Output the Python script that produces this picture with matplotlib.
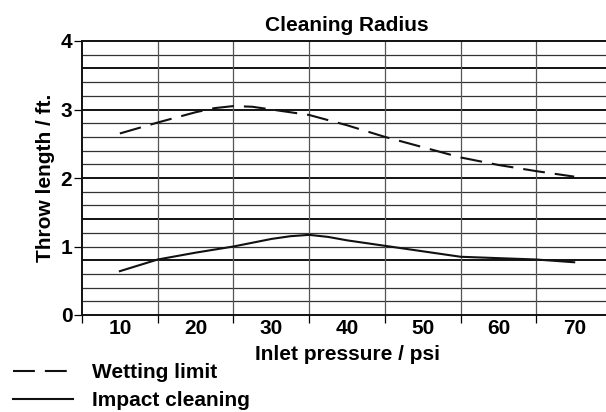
import matplotlib
matplotlib.use("Agg")
import matplotlib.pyplot as plt

# values
wetting_x = [10, 15, 20, 22.5, 25, 27.5, 30, 35, 40, 45, 50, 55, 60, 65, 70]
wetting_limit = [2.65, 2.81, 2.96, 3.02, 3.05, 3.04, 3.00, 2.92, 2.77, 2.60, 2.45, 2.30, 2.19, 2.10, 2.02]
impact_x = [10, 15, 20, 25, 30, 32.5, 35, 37.5, 40, 45, 50, 55, 60, 65, 70]
impact_cleaning = [0.64, 0.81, 0.91, 1.00, 1.11, 1.15, 1.17, 1.14, 1.09, 1.01, 0.93, 0.85, 0.83, 0.81, 0.77]
x_labels = [10, 20, 30, 40, 50, 60, 70]
y_ticks = [0, 1, 2, 3, 4]

plt.rcParams.update({"font.family": "Liberation Sans", "font.weight": "bold", "font.size": 15})

fig = plt.figure(figsize=(6.06, 4.12), dpi=100)
ax = fig.add_axes([82 / 606, 1 - 315 / 412, 1 - 82 / 606 + 0.01, (315 - 41) / 412])

ax.set_xlim(5, 75)
ax.set_ylim(0, 4)

# horizontal grid every 0.2, some rows heavier as in the scan
heavy = {0.8, 1.4, 2.0, 3.0, 3.6}
for i in range(1, 20):
    y = round(i * 0.2, 1)
    if y in heavy:
        ax.axhline(y, color="#111111", lw=1.4, zorder=1)
    else:
        ax.axhline(y, color="#333333", lw=0.9, zorder=1)
for x in range(15, 75, 10):
    ax.axvline(x, color="#555555", lw=0.9, zorder=1)

ax.plot(wetting_x, wetting_limit, color="#111111", lw=1.5,
        linestyle=(0, (10.5, 4.8)), label="Wetting limit", zorder=3)
ax.plot(impact_x, impact_cleaning, color="#111111", lw=1.5,
        label="Impact cleaning", zorder=3)

for s in ax.spines.values():
    s.set_color("#111111")
    s.set_linewidth(1.4)
ax.spines["right"].set_visible(False)

ax.set_yticks(y_ticks)
ax.set_yticklabels([str(v) for v in y_ticks])
ax.tick_params(axis="y", length=6, width=0.9, pad=1, labelsize=15)

ax.set_xticks(range(5, 75, 10))
ax.set_xticklabels([])
ax.set_xticks(x_labels, minor=True)
ax.set_xticklabels([str(v) for v in x_labels], minor=True)
ax.tick_params(axis="x", which="major", length=6, width=0.9)
ax.tick_params(axis="x", which="minor", length=0, pad=3, labelsize=15)

ax.set_title("Cleaning Radius", fontsize=15, fontweight="bold", pad=7)
ax.set_xlabel("Inlet pressure / psi", fontsize=15, fontweight="bold", labelpad=5)
ax.set_ylabel("Throw length / ft.", fontsize=15, fontweight="bold", labelpad=4)

fig.legend(loc="upper left", bbox_to_anchor=(0.0, 1 - 351 / 412), frameon=False,
           handlelength=2.9, handletextpad=0.9, labelspacing=0.4, borderaxespad=0.2,
           fontsize=15)

fig.savefig("out.png", dpi=100)
plt.close(fig)
